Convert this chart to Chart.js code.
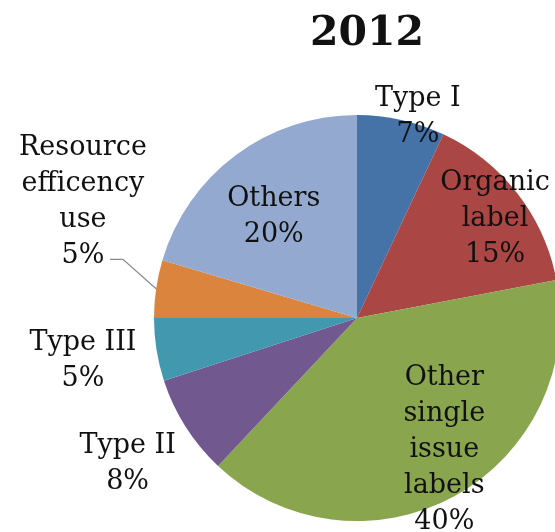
<!DOCTYPE html>
<html>
<head>
<meta charset="utf-8">
<script src="https://cdn.jsdelivr.net/npm/chart.js@4"></script>
<style>
  html, body { margin: 0; padding: 0; background: #fff; overflow: hidden; }
  #wrap { position: relative; width: 555px; height: 532px; }
</style>
</head>
<body>
<div id="wrap"><canvas id="pieChart" width="555" height="532"></canvas></div>
<script>
// data
const chartTitle = '2012';
const categories = ['Type I', 'Organic label', 'Other single issue labels', 'Type II', 'Type III', 'Resource efficency use', 'Others'];
const labelLines = [['Type I'], ['Organic', 'label'], ['Other', 'single', 'issue', 'labels'], ['Type II'], ['Type III'], ['Resource', 'efficency', 'use'], ['Others']];
// slice sizes as drawn in the picture (the printed percentages are rounded)
const shares = [7, 15, 40, 8, 5, 4.6, 20.4];
const shareLabels = ['7%', '15%', '40%', '8%', '5%', '5%', '20%'];

const sliceColors = ['#4572A7', '#AA4643', '#89A54E', '#71588F', '#4198AF', '#DB843D', '#93A9CF'];

// label placement, relative to pie centre in units of the radius
const labelOffsets = [
    [0.30, -0.99], [0.68, -0.49], [0.43, 0.65], [-1.13, 0.72],
    [-1.35, 0.21], [-1.35, -0.57], [-0.41, -0.50]
];
const leaderFor = 5; // only the resource label has a leader line

const FONT = '"DejaVu Serif", serif';

const labelPlugin = {
    id: 'sliceLabels',
    afterDraw(chart) {
        const ctx = chart.ctx;
        const arcs = chart.getDatasetMeta(0).data;
        ctx.save();

        // title
        ctx.fillStyle = '#111';
        ctx.font = 'bold 41px ' + FONT;
        ctx.textAlign = 'center';
        ctx.textBaseline = 'alphabetic';
        ctx.fillText(chartTitle, 367, 45);

        ctx.font = '27px ' + FONT;
        const lh = 36;
        arcs.forEach((arc, i) => {
            const r = arc.outerRadius;
            const cx = arc.x + labelOffsets[i][0] * r;
            const cy = arc.y + labelOffsets[i][1] * r;
            const lines = labelLines[i].concat([shareLabels[i]]);
            const top = cy - (lines.length - 1) * lh / 2;
            ctx.fillStyle = '#111';
            ctx.textBaseline = 'middle';
            lines.forEach((t, k) => ctx.fillText(t, cx, top + k * lh));

            if (i === leaderFor) {
                const mid = (arc.startAngle + arc.endAngle) / 2;
                const ex = arc.x + Math.cos(mid) * r;
                const ey = arc.y + Math.sin(mid) * r;
                const lastY = top + (lines.length - 1) * lh + 3;
                ctx.strokeStyle = '#888';
                ctx.lineWidth = 1.2;
                ctx.beginPath();
                ctx.moveTo(cx + 27, lastY);
                ctx.lineTo(cx + 40, lastY);
                ctx.lineTo(ex, ey);
                ctx.stroke();
            }
        });
        ctx.restore();
    }
};

new Chart(document.getElementById('pieChart').getContext('2d'), {
    type: 'pie',
    data: {
        labels: categories,
        datasets: [{
            data: shares,
            backgroundColor: sliceColors,
            borderWidth: 0,
            radius: 203
        }]
    },
    options: {
        responsive: false,
        animation: false,
        layout: { padding: { left: 159, top: 104, right: 0, bottom: 0 } },
        plugins: {
            legend: { display: false },
            tooltip: { enabled: false },
            title: { display: false }
        }
    },
    plugins: [labelPlugin]
});
</script>
</body>
</html>
